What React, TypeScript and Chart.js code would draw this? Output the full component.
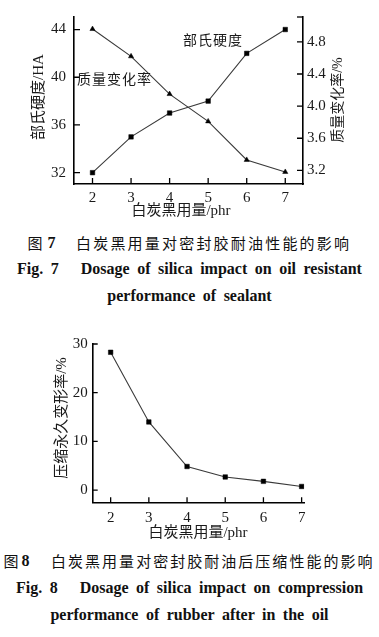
import React, { useEffect, useRef } from "react";
import { Chart, registerables } from "chart.js";

Chart.register(...registerables);

// ---------- data ----------
const dosage = [2, 3, 4, 5, 6, 7];
const hardness = [32, 35, 37, 38, 42, 44];
const massChange = [4.96, 4.62, 4.15, 3.81, 3.33, 3.18];
const compressionSet = [28.3, 14.0, 4.85, 2.7, 1.8, 0.75];

const hardnessTicks = [32, 36, 40, 44];
const massTicks = [3.2, 3.6, 4.0, 4.4, 4.8];
const setTicks = [0, 10, 20, 30];

const xTitle = "白炭黑用量/phr";
const hardnessTitle = "部氏硬度/HA";
const massTitle = "质量变化率/%";
const setTitle = "压缩永久变形率/%";
const hardnessLabel = "部氏硬度";
const massLabel = "质量变化率";

const FONT = "'Liberation Serif', 'Noto Sans CJK SC', serif";
const INK = "#1a1a1a";

function inwardTicks(ctx: CanvasRenderingContext2D, chart: any, xs: any, ys: any[], len: number) {
  const a = chart.chartArea;
  ctx.beginPath();
  for (const v of dosage) {
    const px = xs.getPixelForValue(v);
    ctx.moveTo(px, a.bottom);
    ctx.lineTo(px, a.bottom - len);
  }
  for (const [scale, vals, side] of ys) {
    for (const v of vals) {
      const py = scale.getPixelForValue(v);
      if (side === "left") {
        ctx.moveTo(a.left, py);
        ctx.lineTo(a.left + len, py);
      } else {
        ctx.moveTo(a.right, py);
        ctx.lineTo(a.right - len, py);
      }
    }
  }
  ctx.stroke();
}

function vText(ctx: CanvasRenderingContext2D, text: string, x: number, y: number) {
  ctx.save();
  ctx.translate(x, y);
  ctx.rotate(-Math.PI / 2);
  ctx.textAlign = "center";
  ctx.textBaseline = "middle";
  ctx.fillText(text, 0, 0);
  ctx.restore();
}

const fig7Decor = {
  id: "fig7Decor",
  afterDraw(chart: any) {
    const { ctx, scales } = chart;
    const a = chart.chartArea;
    ctx.save();
    ctx.strokeStyle = "#000";
    ctx.lineWidth = 1.3;
    inwardTicks(ctx, chart, scales.x, [[scales.yL, hardnessTicks, "left"], [scales.yR, massTicks, "right"]], 6);
    ctx.beginPath();
    ctx.moveTo(a.right, a.top);
    ctx.lineTo(a.right - 6, a.top);
    ctx.stroke();

    ctx.fillStyle = INK;
    ctx.font = `15px ${FONT}`;
    ctx.textAlign = "center";
    ctx.textBaseline = "middle";
    ctx.fillText(xTitle, 181, 211);
    vText(ctx, hardnessTitle, 39, 97);
    ctx.font = `14px ${FONT}`;
    vText(ctx, massTitle, 338, 100);

    ctx.font = `14px ${FONT}`;
    (ctx as any).letterSpacing = "1px";
    ctx.textAlign = "left";
    ctx.fillText(hardnessLabel, scales.x.getPixelForValue(4.35), scales.yL.getPixelForValue(43.0));
    ctx.fillText(massLabel, scales.x.getPixelForValue(1.6), scales.yL.getPixelForValue(39.7));
    ctx.restore();
  },
};

const fig8Decor = {
  id: "fig8Decor",
  afterDraw(chart: any) {
    const { ctx, scales } = chart;
    ctx.save();
    ctx.strokeStyle = "#000";
    ctx.lineWidth = 1.3;
    inwardTicks(ctx, chart, scales.x, [[scales.y, setTicks, "left"]], 5);
    ctx.fillStyle = INK;
    ctx.font = `15px ${FONT}`;
    ctx.textAlign = "center";
    ctx.textBaseline = "middle";
    ctx.fillText(xTitle, 198, 203);
    vText(ctx, setTitle, 62, 88);
    ctx.restore();
  },
};

const tickFont = { family: FONT, size: 15 };
const border = { display: true, color: "#000", width: 1.6 };
const noGrid = { display: false, drawTicks: false };

export default function App() {
  const c1 = useRef<HTMLCanvasElement>(null);
  const c2 = useRef<HTMLCanvasElement>(null);

  useEffect(() => {
    const line = { borderColor: "#3a3a3a", borderWidth: 1.1, pointBackgroundColor: "#000", pointBorderColor: "#000", pointBorderWidth: 0.5, tension: 0 };
    const chart1 = new Chart(c1.current!, {
      type: "line",
      data: {
        datasets: [
          { ...line, data: dosage.map((x, i) => ({ x, y: hardness[i] })), yAxisID: "yL", pointStyle: "rect", pointRadius: 3.2 },
          { ...line, data: dosage.map((x, i) => ({ x, y: massChange[i] })), yAxisID: "yR", pointStyle: "triangle", pointRadius: 3 },
        ],
      },
      options: {
        responsive: false,
        animation: false,
        events: [],
        layout: { padding: { top: 12, left: 0, right: 0, bottom: 0 } },
        plugins: { legend: { display: false }, tooltip: { enabled: false } },
        scales: {
          x: {
            type: "linear", min: 1.52, max: 7.46,
            afterBuildTicks: (s: any) => { s.ticks = dosage.map((v) => ({ value: v })); },
            afterFit: (s: any) => { s.height = 41; },
            grid: noGrid, border,
            ticks: { font: tickFont, color: INK, padding: 5, maxRotation: 0 },
          },
          yL: {
            type: "linear", position: "left", min: 31.05, max: 45.05,
            afterBuildTicks: (s: any) => { s.ticks = hardnessTicks.map((v) => ({ value: v })); },
            afterFit: (s: any) => { s.width = 74; },
            grid: noGrid, border,
            ticks: { font: tickFont, color: INK, padding: 8 },
          },
          yR: {
            type: "linear", position: "right", min: 3.03, max: 5.11,
            afterBuildTicks: (s: any) => { s.ticks = massTicks.map((v) => ({ value: v })); },
            afterFit: (s: any) => { s.width = 76; },
            grid: noGrid, border,
            ticks: { font: tickFont, color: INK, padding: 4, callback: (v: any) => Number(v).toFixed(1) },
          },
        },
      },
      plugins: [fig7Decor],
    } as any);

    const chart2 = new Chart(c2.current!, {
      type: "line",
      data: {
        datasets: [
          { ...line, data: dosage.map((x, i) => ({ x, y: compressionSet[i] })), pointStyle: "rect", pointRadius: 3.2 },
        ],
      },
      options: {
        responsive: false,
        animation: false,
        events: [],
        layout: { padding: { top: 11.7, left: 0, right: 74.7, bottom: 0 } },
        plugins: { legend: { display: false }, tooltip: { enabled: false } },
        scales: {
          x: {
            type: "linear", min: 1.53, max: 7.07,
            afterBuildTicks: (s: any) => { s.ticks = dosage.map((v) => ({ value: v })); },
            afterFit: (s: any) => { s.height = 37.7; },
            grid: noGrid, border,
            ticks: { font: tickFont, color: INK, padding: 7, maxRotation: 0 },
          },
          y: {
            type: "linear", position: "left", min: -2.5, max: 30,
            afterBuildTicks: (s: any) => { s.ticks = setTicks.map((v) => ({ value: v })); },
            afterFit: (s: any) => { s.width = 92.7; },
            grid: noGrid, border,
            ticks: { font: tickFont, color: INK, padding: 5 },
          },
        },
      },
      plugins: [fig8Decor],
    } as any);

    return () => {
      chart1.destroy();
      chart2.destroy();
    };
  }, []);

  const cn: React.CSSProperties = { fontFamily: "'Noto Sans CJK SC', sans-serif", fontSize: "15px", lineHeight: "22px" };
  const num: React.CSSProperties = { fontFamily: "'Liberation Serif', serif", fontWeight: "bold", fontSize: "16px", lineHeight: "22px" };
  const en: React.CSSProperties = { fontFamily: "'Liberation Serif', serif", fontWeight: "bold", fontSize: "16px", wordSpacing: "3.5px" };
  const lineBox = (center: number): React.CSSProperties => ({
    position: "absolute", left: 0, width: 379, top: center - 11, height: 22, lineHeight: "22px",
    textAlign: "center", whiteSpace: "nowrap", color: "#111",
  });
  const piece = (center: number, left: number, width?: number): React.CSSProperties => ({
    position: "absolute", top: center - 11, left, height: 22, whiteSpace: "nowrap", color: "#111",
    ...(width ? { width, textAlign: "justify", textAlignLast: "justify" as any } : {}),
  });

  return (
    <div style={{ position: "absolute", left: 0, top: 0, width: 379, height: 637, background: "#fff", overflow: "hidden" }}>
      <canvas ref={c1} width={379} height={225} style={{ position: "absolute", left: 0, top: 0, width: 379, height: 225 }} />
      <canvas ref={c2} width={379} height={210} style={{ position: "absolute", left: 0, top: 330, width: 379, height: 210 }} />

      <div style={{ ...piece(243, 27.5), ...cn }}>图</div>
      <div style={{ ...piece(243, 47.5), ...num }}>7</div>
      <div style={{ ...piece(243, 76, 273), ...cn }}>白炭黑用量对密封胶耐油性能的影响</div>
      <div style={lineBox(269)}>
        <span style={en}>Fig. 7</span>
        <span style={{ ...en, marginLeft: 22 }}>Dosage of silica impact on oil resistant</span>
      </div>
      <div style={lineBox(296)}>
        <span style={en}>performance of sealant</span>
      </div>

      <div style={{ ...piece(561, 3.5), ...cn }}>图</div>
      <div style={{ ...piece(561, 21.5), ...num }}>8</div>
      <div style={{ ...piece(561, 51, 321.5), ...cn }}>白炭黑用量对密封胶耐油后压缩性能的影响</div>
      <div style={lineBox(588)}>
        <span style={en}>Fig. 8</span>
        <span style={{ ...en, marginLeft: 22 }}>Dosage of silica impact on compression</span>
      </div>
      <div style={lineBox(615)}>
        <span style={en}>performance of rubber after in the oil</span>
      </div>
    </div>
  );
}
